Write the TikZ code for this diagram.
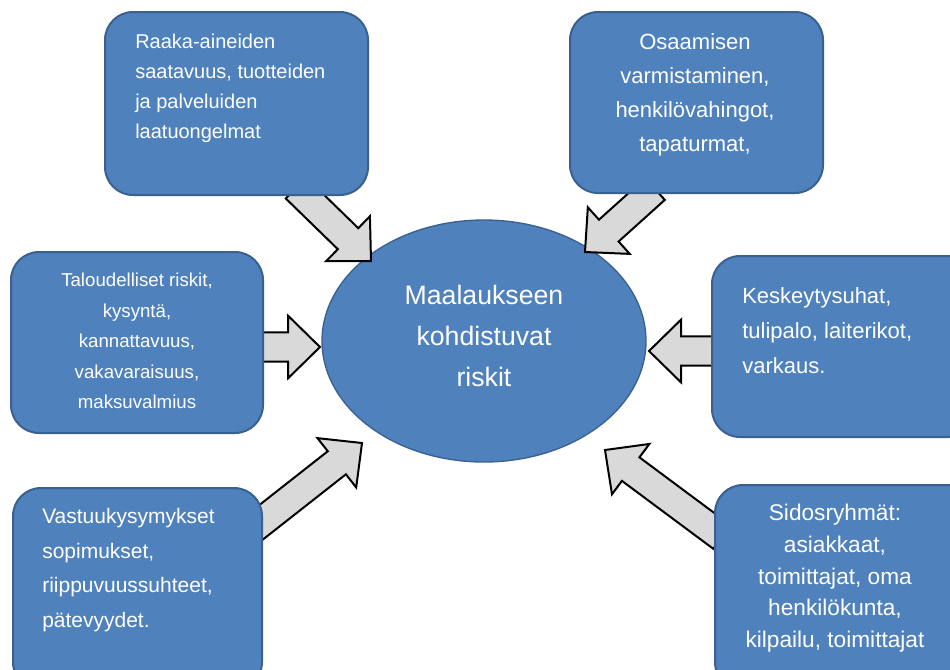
\documentclass[tikz,border=0pt]{standalone}
\usepackage{fontspec}
\setmainfont{Liberation Sans}
\usetikzlibrary{shapes.geometric,calc}
\definecolor{boxblue}{HTML}{4F81BD}
\definecolor{boxedge}{HTML}{3A6090}
\definecolor{arrgray}{HTML}{D9D9D9}
% block arrow from base #1 to tip #2
\newcommand\blockarr[2]{%
  \path ($(#2)!24pt!(#1)$) coordinate (hh);
  \draw[barrow] (#2)
    -- ($(hh)!23.5pt!90:(#2)$)
    -- ($(hh)!11pt!90:(#2)$)
    -- ($(#1)!11pt!90:(#2)$)
    -- ($(#1)!11pt!-90:(#2)$)
    -- ($(hh)!11pt!-90:(#2)$)
    -- ($(hh)!23.5pt!-90:(#2)$)
    -- cycle;}
\begin{document}
\begin{tikzpicture}[x=0.75pt,y=-0.75pt,
  box/.style={draw=boxedge, line width=1.5pt, fill=boxblue, rounded corners=21pt, inner sep=0pt},
  lbl/.style={text=white, inner sep=0pt},
  barrow/.style={draw=black, line width=1.5pt, fill=arrgray, line join=miter}]
\useasboundingbox (0,0) rectangle (950,669);
\clip (0,0) rectangle (950,669);
% centre ellipse
\node[ellipse, draw=boxedge, line width=1pt, fill=boxblue, minimum width=243pt, minimum height=181.5pt, inner sep=0pt] (c) at (484,341) {};
% (base anchor = baseline of the last line)
\node[lbl, anchor=base, align=center, font=\fontsize{20}{30.5}\selectfont] (ct) at (484,386) {Maalaukseen\\kohdistuvat\\riskit};
% arrows
\coordinate (a1s) at (296,188); \coordinate (a1t) at (371,261);
\coordinate (a2s) at (655,189); \coordinate (a2t) at (585,252);
\coordinate (a3s) at (255,347); \coordinate (a3t) at (320,347);
\coordinate (a4s) at (720,351); \coordinate (a4t) at (649,351);
\coordinate (a5s) at (250,531); \coordinate (a5t) at (362,443);
\coordinate (a6s) at (722,537); \coordinate (a6t) at (605,450);
\blockarr{a1s}{a1t}
\blockarr{a2s}{a2t}
\blockarr{a3s}{a3t}
\blockarr{a4s}{a4t}
\blockarr{a5s}{a5t}
\blockarr{a6s}{a6t}
% boxes
\node[box, minimum width=197.25pt, minimum height=137.25pt] (b1) at (236.5,103.5) {};
\node[box, minimum width=189.75pt, minimum height=135.75pt] (b2) at (696.5,102.5) {};
\node[box, minimum width=189pt, minimum height=135.75pt] (b3) at (137,342.5) {};
\node[box, minimum width=197.25pt, minimum height=135.75pt] (b4) at (843.5,346.5) {};
\node[box, minimum width=186.75pt, minimum height=151.5pt] (b5) at (137.5,589) {};
\node[box, minimum width=195pt, minimum height=153.75pt] (b6) at (845,587.5) {};
% texts
\node[lbl, anchor=base west, align=left, font=\fontsize{15}{22.5}\selectfont] (t1) at (135,138)
  {Raaka-aineiden\\saatavuus, tuotteiden\\ja palveluiden\\laatuongelmat};
\node[lbl, anchor=base, align=center, font=\fontsize{16.5}{25.5}\selectfont] (t2) at (695,151)
  {Osaamisen\\varmistaminen,\\henkilövahingot,\\tapaturmat,};
\node[lbl, anchor=base, align=center, font=\fontsize{14}{22.8}\selectfont] (t3) at (137,408.5)
  {Taloudelliset riskit,\\kysyntä,\\kannattavuus,\\vakavaraisuus,\\maksuvalmius};
\node[lbl, anchor=base west, align=left, font=\fontsize{16.5}{26}\selectfont] (t4) at (742,373)
  {Keskeytysuhat,\\tulipalo, laiterikot,\\varkaus.};
\node[lbl, anchor=base west, align=left, font=\fontsize{15.75}{26}\selectfont] (t5) at (42,627.5)
  {Vastuukysymykset\\sopimukset,\\riippuvuussuhteet,\\pätevyydet.};
\node[lbl, anchor=base, align=center, font=\fontsize{17}{23.75}\selectfont] (t6) at (835,647.5)
  {Sidosryhmät:\\asiakkaat,\\toimittajat, oma\\henkilökunta,\\kilpailu, toimittajat};
\end{tikzpicture}
\end{document}
